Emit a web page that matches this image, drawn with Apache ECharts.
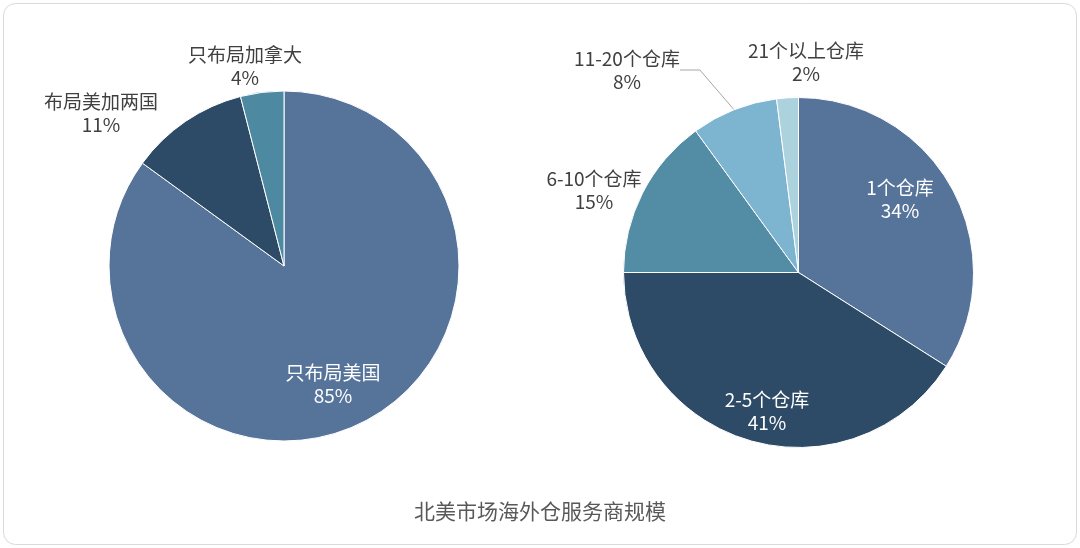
<!DOCTYPE html>
<html>
<head>
<meta charset="utf-8">
<script src="https://cdn.jsdelivr.net/npm/echarts@6/dist/echarts.min.js"></script>
<style>
html,body{margin:0;padding:0;background:#fff;}
#c{width:1080px;height:548px;}
</style>
</head>
<body>
<div id="c"></div>
<script>
// ---- data ----
const leftNames = ['只布局美国', '布局美加两国', '只布局加拿大'];
const leftValues = [85, 11, 4];
const rightNames = ['1个仓库', '2-5个仓库', '6-10个仓库', '11-20个仓库', '21个以上仓库'];
const rightValues = [34, 41, 15, 8, 2];
const title = '北美市场海外仓服务商规模';

// ---- style / layout ----
const leftColors = ['#56739a', '#2d4b66', '#4e89a2'];
const rightColors = ['#56739a', '#2d4b66', '#528ca5', '#7db5d1', '#acd2de'];
const leftInside = [true, false, false];
const rightInside = [true, true, false, false, false];
const rightLeader = [false, false, false, true, false];
// label centres (px) for each slice label
const leftLabelPos = [[333, 384], [101, 113], [245, 66]];
const rightLabelPos = [[900, 199], [767, 411], [594, 190], [627, 70], [806, 62]];

function buildData(names, values, colors, inside, leader) {
  return names.map((n, i) => ({
    name: n,
    value: values[i],
    itemStyle: { color: colors[i] },
    label: { color: inside[i] ? '#ffffff' : '#404040' },
    labelLine: { show: !!(leader && leader[i]) }
  }));
}

function makeSeries(names, values, colors, inside, leader, center, pos) {
  return {
    type: 'pie',
    center: center,
    radius: 175,
    startAngle: 90,
    clockwise: true,
    avoidLabelOverlap: false,
    silent: true,
    itemStyle: { borderColor: '#ffffff', borderWidth: 1 },
    label: {
      show: true,
      position: 'outside',
      formatter: '{b}\n{c}%',
      fontFamily: '"Noto Sans CJK SC", "Noto Sans", sans-serif',
      fontSize: 19,
      lineHeight: 23,
      color: '#404040'
    },
    labelLine: { show: false, length: 20, length2: 20, lineStyle: { color: '#a6a6a6', width: 1 } },
    labelLayout: function (p) {
      const q = pos[p.dataIndex];
      return { x: q[0], y: q[1], align: 'center', verticalAlign: 'middle' };
    },
    data: buildData(names, values, colors, inside, leader)
  };
}

const chart = echarts.init(document.getElementById('c'), null, { renderer: 'canvas' });
chart.setOption({
  animation: false,
  backgroundColor: '#ffffff',
  title: {
    text: title,
    left: 'center',
    top: 496,
    textStyle: {
      fontFamily: '"Noto Sans CJK SC", sans-serif',
      fontSize: 21,
      fontWeight: 'normal',
      color: '#595959'
    }
  },
  graphic: [{
    type: 'rect',
    shape: { x: 3.5, y: 3.5, width: 1073, height: 541, r: 12 },
    style: { fill: 'none', stroke: '#d9d9d9', lineWidth: 1 },
    silent: true
  }],
  series: [
    makeSeries(leftNames, leftValues, leftColors, leftInside, null, [284, 266], leftLabelPos),
    makeSeries(rightNames, rightValues, rightColors, rightInside, rightLeader, [798.5, 272.5], rightLabelPos)
  ]
});
</script>
</body>
</html>
